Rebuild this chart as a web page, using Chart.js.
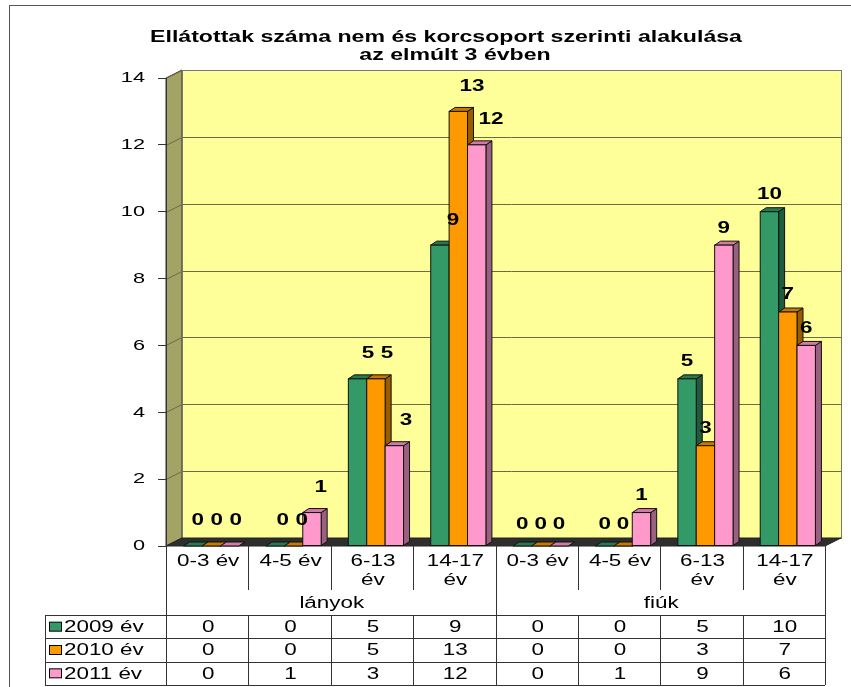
<!DOCTYPE html>
<html>
<head>
<meta charset="utf-8">
<script src="https://cdn.jsdelivr.net/npm/chart.js@4.4.1/dist/chart.umd.min.js"></script>
<style>
  html, body { margin: 0; padding: 0; background: #fff; }
  canvas { display: block; }
</style>
</head>
<body>
<canvas id="chart" width="851" height="687"></canvas>
<script>
// ---- data ----
const titleLines = ['Ellátottak száma nem és korcsoport szerinti alakulása', 'az elmúlt 3 évben'];
const categories = [['0-3 év'], ['4-5 év'], ['6-13', 'év'], ['14-17', 'év'],
                    ['0-3 év'], ['4-5 év'], ['6-13', 'év'], ['14-17', 'év']];
const groups = ['lányok', 'fiúk'];
const seriesNames = ['2009 év', '2010 év', '2011 év'];
const values2009 = [0, 0, 5, 9, 0, 0, 5, 10];
const values2010 = [0, 0, 5, 13, 0, 0, 3, 7];
const values2011 = [0, 1, 3, 12, 0, 1, 9, 6];
const yMax = 14;
const yStep = 2;

// ---- style ----
const FONT = '"Liberation Sans", Arial, sans-serif';
const colors = ['#339966', '#ff9900', '#ff99cc'];
const topColors = ['#267a50', '#c87800', '#d07aa6'];
const sideColors = ['#1e5c3d', '#9a5c00', '#9a6080'];
const WALL_DX = 16, WALL_DY = 8;   // depth of the walls
const BAR_DX = 6, BAR_DY = 4;      // depth of the bars
const BAR_SHIFT = 4;
const STRETCH = 1.4;               // the original is drawn wide

function poly(ctx, pts, fill, stroke) {
  ctx.beginPath();
  ctx.moveTo(pts[0][0], pts[0][1]);
  for (let i = 1; i < pts.length; i++) ctx.lineTo(pts[i][0], pts[i][1]);
  ctx.closePath();
  if (fill) { ctx.fillStyle = fill; ctx.fill(); }
  if (stroke) { ctx.strokeStyle = stroke; ctx.stroke(); }
}

// text squeezed out horizontally like the original
function wideText(ctx, s, x, y, align = 'center', sx = STRETCH) {
  ctx.save();
  ctx.translate(x, y);
  ctx.scale(sx, 1);
  ctx.textAlign = align;
  ctx.textBaseline = 'middle';
  ctx.fillText(s, 0, 0);
  ctx.restore();
}

const scene3d = {
  id: 'scene3d',
  beforeDraw(chart) {
    const { ctx, chartArea: a, scales: { y } } = chart;
    ctx.save();
    ctx.lineWidth = 1;

    // outer frame
    ctx.strokeStyle = '#555';
    ctx.strokeRect(9.5, 5.5, 900, 800);

    // title
    ctx.fillStyle = '#000';
    ctx.font = 'bold 16.5px ' + FONT;
    wideText(ctx, titleLines[0], 446, 37);
    wideText(ctx, titleLines[1], 455, 55);

    // back wall
    ctx.fillStyle = '#ffff99';
    ctx.fillRect(a.left + WALL_DX, a.top - WALL_DY, a.width, a.height);
    // left wall
    poly(ctx, [[a.left, a.bottom], [a.left, a.top], [a.left + WALL_DX, a.top - WALL_DY],
               [a.left + WALL_DX, a.bottom - WALL_DY]], '#a3a366', '#333');

    // gridlines
    ctx.strokeStyle = '#6b6b45';
    y.ticks.forEach(t => {
      const py = Math.round(y.getPixelForValue(t.value)) + 0.5;
      ctx.beginPath();
      ctx.moveTo(a.left, py);
      ctx.lineTo(a.left + WALL_DX, py - WALL_DY);
      ctx.lineTo(a.right + WALL_DX, py - WALL_DY);
      ctx.stroke();
    });
    ctx.strokeStyle = '#777';
    ctx.strokeRect(a.left + WALL_DX + 0.5, a.top - WALL_DY + 0.5, a.width, a.height);

    // floor
    poly(ctx, [[a.left, a.bottom], [a.right, a.bottom], [a.right + WALL_DX, a.bottom - WALL_DY],
               [a.left + WALL_DX, a.bottom - WALL_DY]], '#2e2e2e', '#222');

    // y tick labels
    ctx.fillStyle = '#000';
    ctx.font = '15.5px ' + FONT;
    y.ticks.forEach(t => wideText(ctx, String(t.value), a.left - 21, y.getPixelForValue(t.value), 'right'));
    ctx.restore();
  },
  beforeDatasetsDraw(chart) {
    const { ctx } = chart;
    ctx.save();
    ctx.lineWidth = 1;
    ctx.strokeStyle = '#111';
    const n = chart.data.labels.length;
    for (let j = 0; j < n; j++) {
      chart.data.datasets.forEach((ds, i) => {
        const bar = chart.getDatasetMeta(i).data[j];
        const w = bar.width;
        const l = bar.x - w / 2 + BAR_SHIFT;
        const r = l + w;
        const top = bar.y, base = bar.base;
        // side
        poly(ctx, [[r, top], [r + BAR_DX, top - BAR_DY], [r + BAR_DX, base - BAR_DY], [r, base]],
             sideColors[i], '#111');
        // top
        poly(ctx, [[l, top], [r, top], [r + BAR_DX, top - BAR_DY], [l + BAR_DX, top - BAR_DY]],
             topColors[i], '#111');
        // front
        if (base - top > 0.5) {
          ctx.fillStyle = colors[i];
          ctx.fillRect(l, top, w, base - top);
          ctx.strokeRect(l, top, w, base - top);
        }
      });
    }
    ctx.restore();
    return false;
  },
  afterDraw(chart) {
    const { ctx, chartArea: a, scales: { x } } = chart;
    ctx.save();

    // value labels
    ctx.fillStyle = '#000';
    ctx.font = 'bold 16px ' + FONT;
    chart.data.datasets.forEach((ds, i) => {
      chart.getDatasetMeta(i).data.forEach((bar, j) => {
        const cx = bar.x + BAR_SHIFT;
        const t = (cx - a.left) / a.width;
        const dx = t < 0.5 ? 4 + 22 * t : 0;
        const dy = t < 0.5 ? 25 : (ds.data[j] === 0 ? 21 : 17);
        wideText(ctx, String(ds.data[j]), cx + dx, bar.y - dy);
      });
    });

    // data table
    const colW = a.width / categories.length;
    const top = a.bottom;
    const catBottom = top + 44;
    const groupBottom = top + 69;
    const rowH = (685 - groupBottom) / seriesNames.length;
    const tableLeft = 45;
    const tableBottom = groupBottom + rowH * seriesNames.length;
    const line = (x1, y1, x2, y2) => {
      ctx.beginPath();
      ctx.moveTo(x1, y1);
      ctx.lineTo(x2, y2);
      ctx.stroke();
    };
    ctx.strokeStyle = '#333';
    ctx.lineWidth = 1;
    for (let k = 0; k <= categories.length; k++) {
      const px = Math.round(a.left + k * colW) + 0.5;
      if (k % 4 === 0) line(px, top, px, tableBottom);
      else { line(px, top, px, catBottom); line(px, groupBottom, px, tableBottom); }
    }
    for (let r = 0; r <= seriesNames.length; r++) {
      const py = Math.round(groupBottom + r * rowH) + 0.5;
      line(tableLeft, py, a.right, py);
    }
    line(tableLeft + 0.5, groupBottom, tableLeft + 0.5, tableBottom);

    ctx.font = '16px ' + FONT;
    ctx.fillStyle = '#000';
    categories.forEach((lines, k) => {
      const cx = x.getPixelForValue(k) + 1;
      lines.forEach((s, li) => wideText(ctx, s, cx, top + 16 + li * 19));
    });
    groups.forEach((g, k) => {
      wideText(ctx, g, a.left + colW * (k * 4 + 2) + 1, top + 58);
    });
    chart.data.datasets.forEach((ds, i) => {
      const cy = groupBottom + rowH * (i + 0.5);
      ctx.fillStyle = colors[i];
      ctx.fillRect(49.5, cy - 4.5, 12, 9);
      ctx.strokeStyle = '#000';
      ctx.strokeRect(49.5, cy - 4.5, 12, 9);
      ctx.fillStyle = '#000';
      wideText(ctx, ds.label, 64, cy + 1, 'left');
      ds.data.forEach((v, j) => wideText(ctx, String(v), x.getPixelForValue(j) + 1, cy + 1));
    });
    ctx.restore();
  }
};

new Chart(document.getElementById('chart'), {
  type: 'bar',
  data: {
    labels: categories.map(c => c.join(' ')),
    datasets: [
      { label: seriesNames[0], data: values2009, backgroundColor: colors[0] },
      { label: seriesNames[1], data: values2010, backgroundColor: colors[1] },
      { label: seriesNames[2], data: values2011, backgroundColor: colors[2] }
    ]
  },
  options: {
    responsive: false,
    animation: false,
    devicePixelRatio: 1,
    layout: { padding: { left: 0, right: 26, top: 78, bottom: 141 } },
    datasets: { bar: { categoryPercentage: 0.67, barPercentage: 1 } },
    plugins: { legend: { display: false }, tooltip: { enabled: false }, title: { display: false } },
    scales: {
      x: { display: false },
      y: {
        min: 0,
        max: yMax,
        afterFit(scale) { scale.width = 166; },
        ticks: { stepSize: yStep, display: false },
        grid: { drawOnChartArea: false, drawTicks: true, tickLength: 8, color: '#333' },
        border: { color: '#333' }
      }
    }
  },
  plugins: [scene3d]
});
</script>
</body>
</html>
